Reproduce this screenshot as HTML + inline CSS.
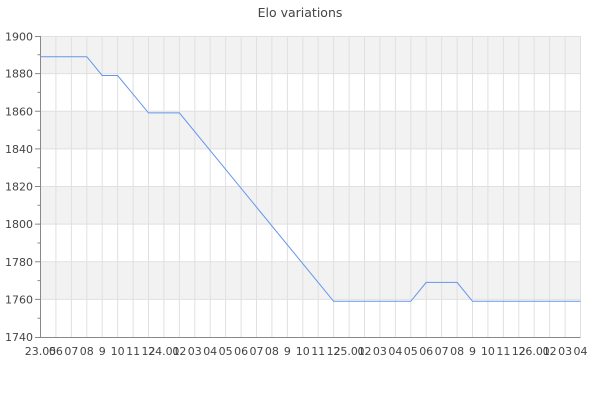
<!DOCTYPE html>
<html><head><meta charset="utf-8"><style>
html,body{margin:0;padding:0;background:#fff;}
svg{display:block;font-family:"DejaVu Sans","Liberation Sans",sans-serif;}
</style></head><body>
<svg width="600" height="400" xmlns="http://www.w3.org/2000/svg">
<text x="300" y="17" text-anchor="middle" font-size="12.5" fill="#444">Elo variations</text>
<g fill="#f2f2f2">
<rect x="40.5" y="36" width="540" height="37.6"/>
<rect x="40.5" y="111.3" width="540" height="37.6"/>
<rect x="40.5" y="186.5" width="540" height="37.6"/>
<rect x="40.5" y="261.8" width="540" height="37.6"/>
</g>
<g stroke="#e0e0e0" stroke-width="1" fill="none">
<path d="M40.5 36V337M55.9 36V337M71.4 36V337M86.8 36V337M102.2 36V337M117.6 36V337M133.1 36V337M148.5 36V337M163.9 36V337M179.4 36V337M194.8 36V337M210.2 36V337M225.6 36V337M241.1 36V337M256.5 36V337M271.9 36V337M287.4 36V337M302.8 36V337M318.2 36V337M333.6 36V337M349.1 36V337M364.5 36V337M379.9 36V337M395.4 36V337M410.8 36V337M426.2 36V337M441.6 36V337M457.1 36V337M472.5 36V337M487.9 36V337M503.4 36V337M518.8 36V337M534.2 36V337M549.6 36V337M565.1 36V337M580.5 36V337"/>
<path d="M40.5 36.5H580.5M40.5 73.6H580.5M40.5 111.3H580.5M40.5 148.9H580.5M40.5 186.5H580.5M40.5 224.1H580.5M40.5 261.8H580.5M40.5 299.4H580.5"/>
</g>
<g stroke="#888" stroke-width="1" fill="none">
<path d="M40.5 36V337.5H580.5"/>
<path d="M35 36.5H40.5M35 73.6H40.5M35 111.3H40.5M35 148.9H40.5M35 186.5H40.5M35 224.1H40.5M35 261.8H40.5M35 299.4H40.5M35 337.5H40.5"/>
<path d="M37.5 54.8H40.5M37.5 92.4H40.5M37.5 130.1H40.5M37.5 167.7H40.5M37.5 205.3H40.5M37.5 243H40.5M37.5 280.6H40.5M37.5 318.2H40.5"/>
</g>
<g font-size="11" fill="#444" text-anchor="end">
<text x="33" y="40.5">1900</text><text x="33" y="77.6">1880</text><text x="33" y="115.3">1860</text><text x="33" y="152.9">1840</text><text x="33" y="190.5">1820</text><text x="33" y="228.1">1800</text><text x="33" y="265.8">1780</text><text x="33" y="303.4">1760</text><text x="33" y="341">1740</text>
</g>
<polyline fill="none" stroke="#6495ed" stroke-width="1" points="40.5,56.7 86.8,56.7 102.2,75.5 117.6,75.5 148.5,112.9 179.4,112.9 333.6,301.3 410.8,301.3 426.2,282.4 457.1,282.4 472.5,301.3 580.5,301.3"/>
<g font-size="11" fill="#444" text-anchor="middle">
<text x="40.5" y="355">23.05</text><text x="55.9" y="355">06</text><text x="71.4" y="355">07</text><text x="86.8" y="355">08</text><text x="102.2" y="355">9</text><text x="117.6" y="355">10</text><text x="133.1" y="355">11</text><text x="148.5" y="355">12</text><text x="163.9" y="355">24.01</text><text x="179.4" y="355">02</text><text x="194.8" y="355">03</text><text x="210.2" y="355">04</text><text x="225.6" y="355">05</text><text x="241.1" y="355">06</text><text x="256.5" y="355">07</text><text x="271.9" y="355">08</text><text x="287.4" y="355">9</text><text x="302.8" y="355">10</text><text x="318.2" y="355">11</text><text x="333.6" y="355">12</text><text x="349.1" y="355">25.01</text><text x="364.5" y="355">02</text><text x="379.9" y="355">03</text><text x="395.4" y="355">04</text><text x="410.8" y="355">05</text><text x="426.2" y="355">06</text><text x="441.6" y="355">07</text><text x="457.1" y="355">08</text><text x="472.5" y="355">9</text><text x="487.9" y="355">10</text><text x="503.4" y="355">11</text><text x="518.8" y="355">12</text><text x="534.2" y="355">26.01</text><text x="549.6" y="355">02</text><text x="565.1" y="355">03</text><text x="580.5" y="355">04</text>
</g>
</svg>
</body></html>
